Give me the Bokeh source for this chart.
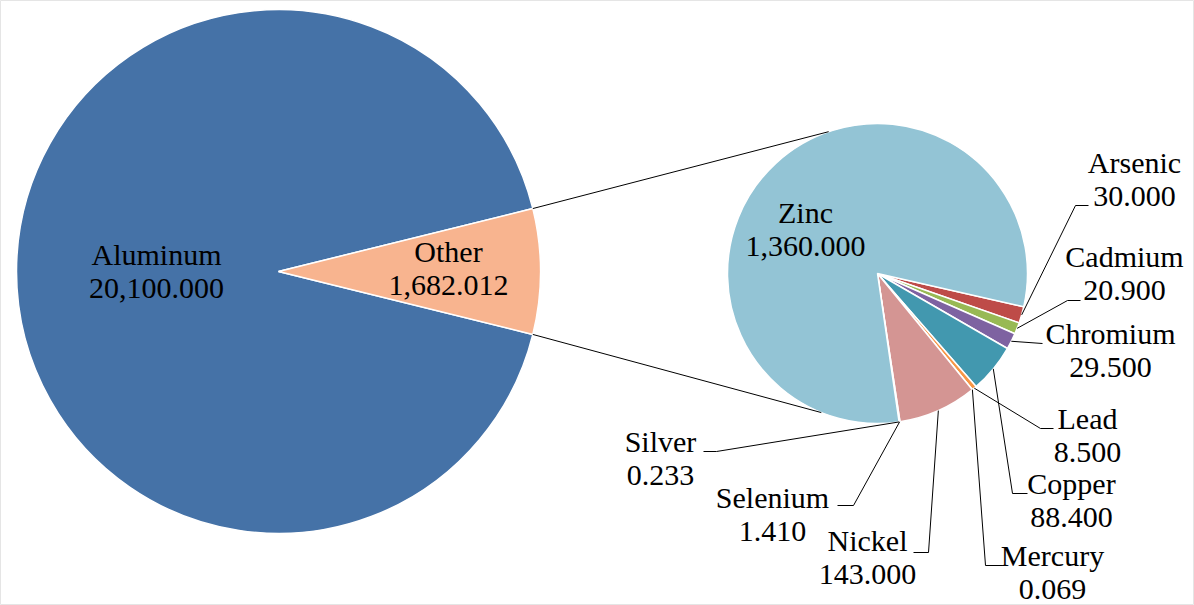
import math
from bokeh.plotting import figure
from bokeh.models import Range1d, Label
from bokeh.embed import file_html
from bokeh.resources import INLINE

# ---------------- data ----------------
main_labels = ["Aluminum", "Other"]
main_values = [20100.0, 1682.012]
main_colors = ["#4572A7", "#F8B48F"]

sub_labels = ["Arsenic", "Cadmium", "Chromium", "Copper", "Lead",
              "Mercury", "Nickel", "Selenium", "Silver", "Zinc"]
sub_values = [30.0, 20.9, 29.5, 88.4, 8.5, 0.069, 143.0, 1.41, 0.233, 1360.0]
sub_colors = ["#BE4B48", "#98B954", "#7E62A1", "#4298AF", "#F79646",
              "#2C4D75", "#D49593", "#B7DEE8", "#FAC090", "#93C4D5"]

# ---------------- layout (image pixel coords, y down) ----------------
W, H = 1194, 605
FONT = "Liberation Serif"
FS = "30px"

def Y(y):
    return H - y

MAIN_C = (278, 271)
MAIN_R = 262
SUB_C = (877, 273)
SUB_R = 150
SUB_START = math.radians(-12.8)   # first secondary slice starts here, going clockwise

main_label_pos = {"Aluminum": (156, 254), "Other": (448, 251)}
sub_label_pos = {
    "Zinc": (805, 212), "Arsenic": (1134, 162), "Cadmium": (1124, 256),
    "Chromium": (1110, 333), "Lead": (1087, 418), "Copper": (1071, 483),
    "Mercury": (1052, 555), "Nickel": (867, 540), "Selenium": (772, 497),
    "Silver": (660, 441),
}
LINE_GAP = 34
leader_pts = {  # elbow, end
    "Arsenic": ((1075, 205), (1088, 205)),
    "Cadmium": ((1067, 300), (1080, 300)),
    "Chromium": ((1042, 343), (1042, 343)),
    "Lead": ((1040, 428), (1053, 428)),
    "Copper": ((1012, 493), (1027, 493)),
    "Mercury": ((985, 565), (1002, 565)),
    "Nickel": ((928, 552), (913, 552)),
    "Selenium": ((853, 505), (837, 505)),
    "Silver": ((716, 451), (703, 451)),
}

p = figure(width=W, height=H, output_backend="svg", toolbar_location=None,
           x_range=Range1d(0, W), y_range=Range1d(0, H), min_border=0)
p.axis.visible = False
p.grid.visible = False

# ---------------- main pie ----------------
tot = sum(main_values)
other_ang = 2 * math.pi * main_values[1] / tot
starts = [other_ang / 2, -other_ang / 2]
ends = [2 * math.pi - other_ang / 2, other_ang / 2]
mx, my = MAIN_C
p.wedge(x=[mx] * 2, y=[Y(my)] * 2, radius=MAIN_R, start_angle=starts,
        end_angle=ends, fill_color=main_colors, line_color="white", line_width=1.5)

# ---------------- secondary pie ----------------
stot = sum(sub_values)
sx, sy = SUB_C
s_start, s_end, mids = [], [], []
a = SUB_START
for v in sub_values:
    b = a - 2 * math.pi * v / stot
    s_start.append(b)
    s_end.append(a)
    mids.append((a + b) / 2)
    a = b
p.wedge(x=[sx] * len(sub_values), y=[Y(sy)] * len(sub_values), radius=SUB_R,
        start_angle=s_start, end_angle=s_end, fill_color=sub_colors,
        line_color="white", line_width=1.5)

# ---------------- connector + leader lines ----------------
c_top = (mx + MAIN_R * math.cos(other_ang / 2), Y(my) + MAIN_R * math.sin(other_ang / 2))
c_bot = (mx + MAIN_R * math.cos(other_ang / 2), Y(my) - MAIN_R * math.sin(other_ang / 2))
t_ang, b_ang = math.radians(109), math.radians(-112)
s_top = (sx + SUB_R * math.cos(t_ang), Y(sy) + SUB_R * math.sin(t_ang))
s_bot = (sx + SUB_R * math.cos(b_ang), Y(sy) + SUB_R * math.sin(b_ang))
lxs = [[c_top[0], s_top[0]], [c_bot[0], s_bot[0]]]
lys = [[c_top[1], s_top[1]], [c_bot[1], s_bot[1]]]
for i, name in enumerate(sub_labels):
    if name not in leader_pts:
        continue
    m = mids[i]
    x0 = sx + SUB_R * math.cos(m)
    y0 = Y(sy) + SUB_R * math.sin(m)
    (ex, ey), (fx, fy) = leader_pts[name]
    lxs.append([x0, ex, fx])
    lys.append([y0, Y(ey), Y(fy)])
p.multi_line(xs=lxs, ys=lys, line_color="black", line_width=1)

# ---------------- labels ----------------
items = []
for name, v in list(zip(main_labels, main_values)) + list(zip(sub_labels, sub_values)):
    x, y = main_label_pos.get(name) or sub_label_pos[name]
    items.append((x, Y(y), name))
    items.append((x, Y(y + LINE_GAP), f"{v:,.3f}"))

for x, y, t in items:
    p.add_layout(Label(x=x, y=y, text=t, text_font=FONT, text_font_size=FS,
                       text_align="center", text_baseline="middle",
                       text_color="#000000"))

open("out.html", "w").write(file_html(p, INLINE))
